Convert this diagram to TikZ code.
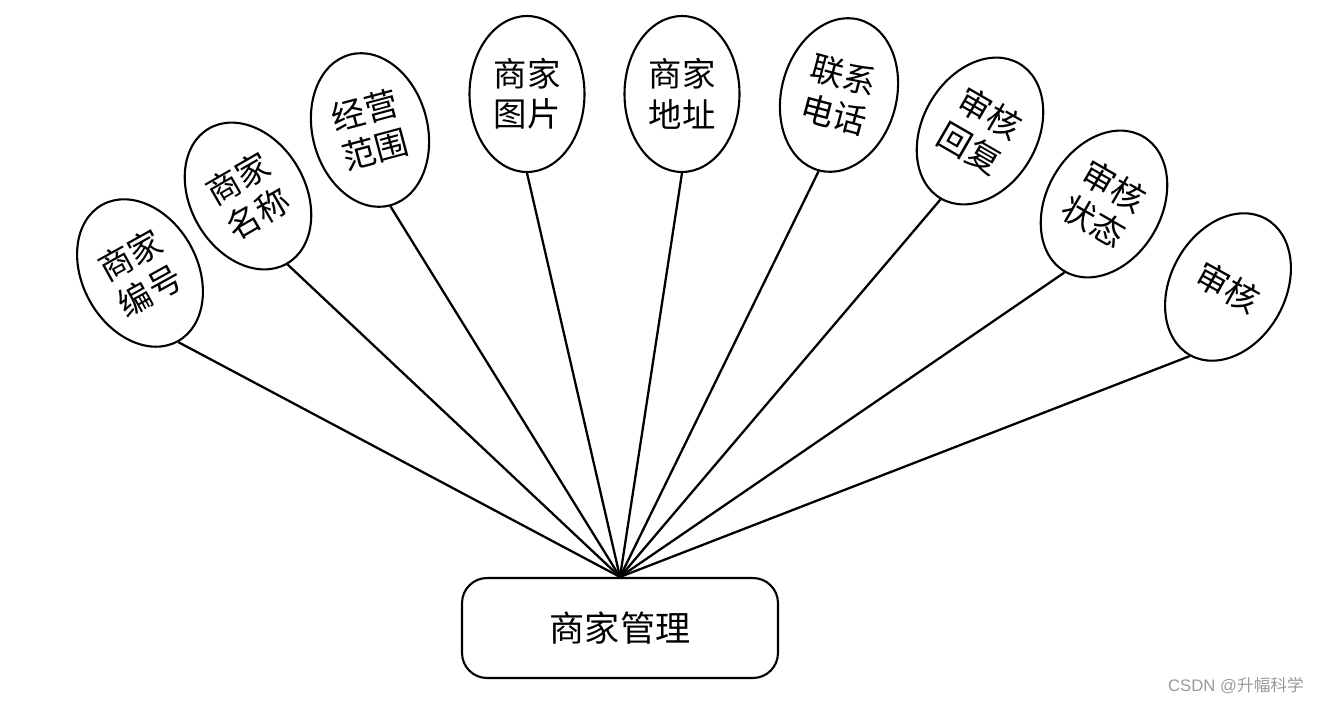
\documentclass[tikz,border=0pt]{standalone}
\usepackage{fontspec}
\setsansfont{Liberation Sans}
\newfontfamily\cjk{Noto Sans CJK SC}
\usetikzlibrary{shapes.geometric}
\definecolor{wmgrau}{HTML}{9A9A9A}
\tikzset{
  attr/.style={ellipse,draw=black,line width=1.2pt,fill=white,minimum width=2.3cm,minimum height=3.12cm,inner sep=0pt,align=center,font=\cjk\fontsize{19}{23}\selectfont},
  ent/.style={draw=black,line width=1.2pt,rounded corners=0.5cm,minimum width=6.32cm,minimum height=2cm,font=\cjk\fontsize{20}{24}\selectfont},
  link/.style={black,line width=1.3pt},
}

\begin{document}
\begin{tikzpicture}[x=0.02cm,y=-0.02cm]
  \useasboundingbox (0,0) rectangle (1320,704);
  \node[ent] (mgr) at (620,628) {商家管理};
  \node[attr,rotate=29] (bh) at (140,273) {商家\\编号};
  \node[attr,rotate=30] (mc) at (248,196) {商家\\名称};
  \node[attr,rotate=15] (fw) at (370,130) {经营\\范围};
  \node[attr] (tp) at (527,94) {商家\\图片};
  \node[attr] (dz) at (682,94) {商家\\地址};
  \node[attr,rotate=-15] (dh) at (839,95) {联系\\电话};
  \node[attr,rotate=-30] (hf) at (980,131) {审核\\回复};
  \node[attr,rotate=-30] (zt) at (1104,204) {审核\\状态};
  \node[attr,rotate=-29] (sh) at (1228,287) {审核};
  \draw[link] (bh.south) -- (mgr.north);
  \draw[link] (mc.south) -- (mgr.north);
  \draw[link] (fw.south) -- (mgr.north);
  \draw[link] (tp.south) -- (mgr.north);
  \draw[link] (dz.south) -- (mgr.north);
  \draw[link] (dh.south) -- (mgr.north);
  \draw[link] (hf.south) -- (mgr.north);
  \draw[link] (zt.south) -- (mgr.north);
  \draw[link] (sh.south) -- (mgr.north);
  \node[wmgrau,font=\fontsize{9.5}{11}\selectfont] (wm) at (1236,686) {\sffamily CSDN @\cjk 升幅科学};
\end{tikzpicture}
\end{document}
